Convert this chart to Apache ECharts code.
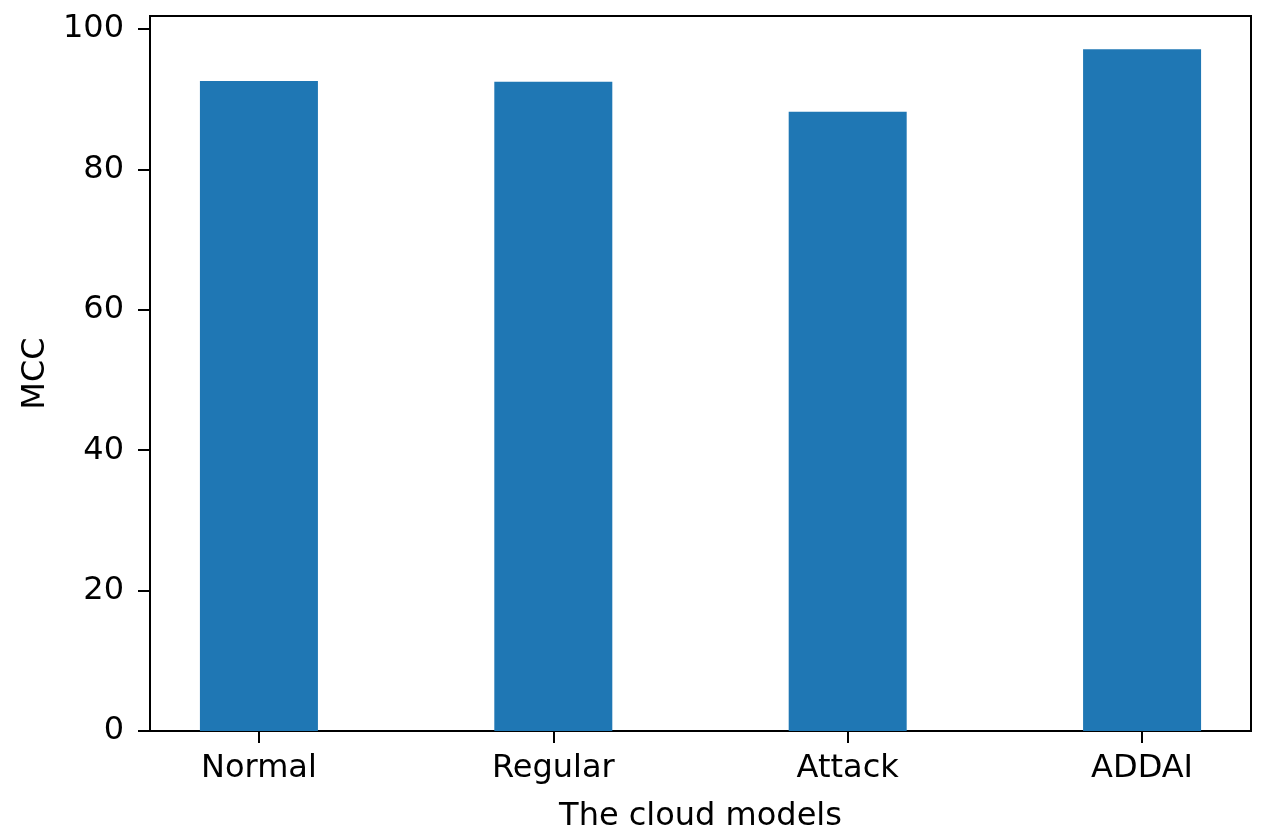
<!DOCTYPE html>
<html>
<head>
<meta charset="utf-8">
<script src="https://cdn.jsdelivr.net/npm/echarts@6/dist/echarts.min.js"></script>
<style>
html,body{margin:0;padding:0;background:#fff;}
#chart{width:1267px;height:840px;}
</style>
</head>
<body>
<div id="chart"></div>
<script>
const categories = ["Normal", "Regular", "Attack", "ADDAI"];
const mccValues = [92.6, 92.5, 88.2, 97.1];
const yTicks = [0, 20, 40, 60, 80, 100];
const xTicks = [0, 1, 2, 3];

const chart = echarts.init(document.getElementById('chart'), null, {renderer: 'canvas'});
const font = 'DejaVu Sans';
const option = {
  animation: false,
  backgroundColor: '#ffffff',
  grid: {
    left: 150, right: 16, top: 16, bottom: 109,
    show: true, borderColor: '#000', borderWidth: 2, backgroundColor: 'transparent'
  },
  xAxis: {
    type: 'value',
    min: -0.37, max: 3.37,
    splitLine: {show: false},
    axisLine: {show: true, onZero: false, lineStyle: {color: '#000', width: 2}},
    axisTick: {show: true, inside: false, length: 12, customValues: xTicks, lineStyle: {color: '#000', width: 2}},
    axisLabel: {
      customValues: xTicks, margin: 22,
      color: '#000', fontFamily: font, fontSize: 32,
      formatter: v => categories[Math.round(v)] || ''
    },
    name: 'The cloud models',
    nameLocation: 'middle', nameGap: 70,
    nameTextStyle: {color: '#000', fontFamily: font, fontSize: 32}
  },
  yAxis: {
    type: 'value',
    min: 0, max: 101.85,
    splitLine: {show: false},
    axisLine: {show: true, onZero: false, lineStyle: {color: '#000', width: 2}},
    axisTick: {show: true, inside: false, length: 12, customValues: yTicks, lineStyle: {color: '#000', width: 2}},
    axisLabel: {
      customValues: yTicks, margin: 26,
      color: '#000', fontFamily: font, fontSize: 32
    },
    name: 'MCC',
    nameLocation: 'middle', nameGap: 97, nameRotate: 90,
    nameTextStyle: {color: '#000', fontFamily: font, fontSize: 32}
  },
  series: [{
    type: 'bar',
    data: categories.map((c, i) => [xTicks[i], mccValues[i]]),
    barWidth: 118,
    itemStyle: {color: '#1f77b4'}
  }]
};
chart.setOption(option);
</script>
</body>
</html>
